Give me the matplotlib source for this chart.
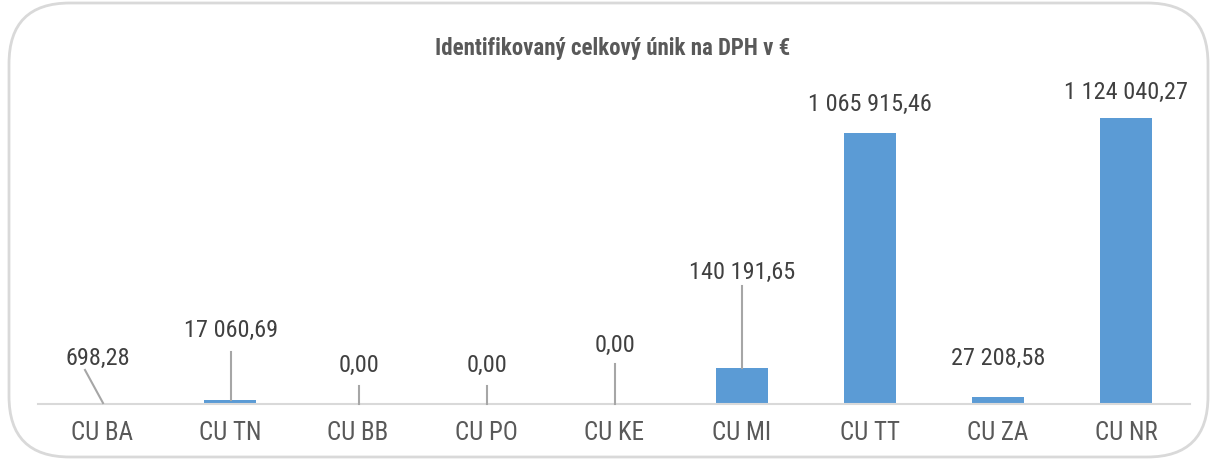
import matplotlib
matplotlib.use("Agg")
import matplotlib.pyplot as plt
from matplotlib.patches import FancyBboxPatch
from matplotlib import font_manager

categories = ["CU BA", "CU TN", "CU BB", "CU PO", "CU KE", "CU MI", "CU TT", "CU ZA", "CU NR"]
values = [698.28, 17060.69, 0.00, 0.00, 0.00, 140191.65, 1065915.46, 27208.58, 1124040.27]
title = "Identifikovaný celkový únik na DPH v €"

def fmt(v):
    s = f"{v:,.2f}"
    return s.replace(",", " ").replace(".", ",")

names = {f.name for f in font_manager.fontManager.ttflist}
stretch = "normal"
fam = None
for cand in ["Arial Narrow", "Liberation Sans Narrow", "Roboto Condensed", "Archivo Narrow",
             "PT Sans Narrow", "Pragati Narrow"]:
    if cand in names:
        fam = cand
        break
if fam is None:
    fam = "Open Sans"
    stretch = "condensed"
plt.rcParams['font.family'] = [fam, 'DejaVu Sans']
plt.rcParams['font.stretch'] = stretch

W, H = 1215, 465
fig = plt.figure(figsize=(W/100, H/100), dpi=100)

# rounded border
box = FancyBboxPatch((9/W, 8/H), (1208-9)/W, (462-8)/H,
                     boxstyle="round,pad=0,rounding_size=0.05",
                     transform=fig.transFigure, fill=False,
                     edgecolor="#D9D9D9", linewidth=2.0, mutation_aspect=W/H)
fig.patches.append(box)

left, right, base, top = 38, 1190, 404, 80
ax = fig.add_axes([left/W, 1-base/H, (right-left)/W, (base-top)/H])
n = len(categories)
x = list(range(n))
ymax = 1124040.27 * (base-top) / 286
ax.bar(x, values, width=0.41, color="#5B9BD5")
ax.set_xlim(-0.5, n-0.5)
ax.set_ylim(0, ymax)
for s in ["left", "right", "top"]:
    ax.spines[s].set_visible(False)
ax.spines["bottom"].set_color("#D9D9D9")
ax.spines["bottom"].set_linewidth(1.5)
ax.set_yticks([])
ax.set_xticks(x)
ax.set_xticklabels(categories, fontsize=18, color="#595959")
ax.tick_params(axis="x", length=0, pad=12)

def py(p):
    return (base - p) / (base - top) * ymax
def px(p):
    return (p - left) / (right - left) * n - 0.5

lab_pos = [(98, 358), (231, 330), (359, 365), (487, 365), (615, 345),
           (742, 272), (870, 104), (998, 358), (1126, 92)]
leaders = [((85, 370), (103, 403)), ((231, 352), (231, 400)), ((359, 386), (359, 404)),
           ((487, 386), (487, 404)), ((615, 364), (615, 404)), ((742, 286), (742, 368)),
           None, None, None]
for i, v in enumerate(values):
    lx, ly = lab_pos[i]
    ax.text(px(lx), py(ly), fmt(v), ha="center", va="center", fontsize=17.5,
            color="#404040", clip_on=False)
    if leaders[i]:
        (x0, y0), (x1, y1) = leaders[i]
        ax.plot([px(x0), px(x1)], [py(y0), py(y1)], color="#A6A6A6", lw=1.5,
                clip_on=False, zorder=3)

fig.text(613/W, 1-48/H, title, ha="center", va="center", fontsize=16.5,
         fontweight="bold", color="#595959")

fig.savefig("out.png", dpi=100)
